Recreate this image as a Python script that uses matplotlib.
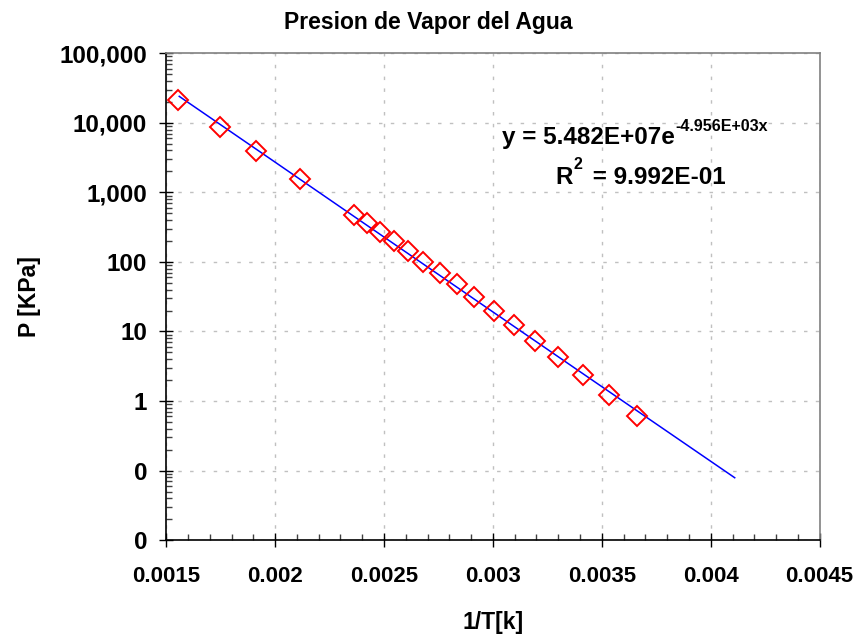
#!/usr/bin/env python
# -*- coding: utf-8 -*-

import matplotlib
matplotlib.use('Agg')
import matplotlib.pyplot as plt
import matplotlib.ticker as mt

plt.rcParams['font.family'] = ['Liberation Sans', 'DejaVu Sans']
plt.rcParams['font.weight'] = 'bold'

# steam table points: 1/T [1/K] and P [kPa]
inv_t = [0.001555, 0.001745, 0.001912, 0.002114, 0.002364, 0.002421,
         0.002481, 0.002545, 0.002611, 0.002681, 0.002755, 0.002833,
         0.002915, 0.003003, 0.003096, 0.003195, 0.003300, 0.003413,
         0.003533, 0.003663]
pres = [21030, 8581, 3976, 1554, 476, 361, 270, 198.5, 143.3, 101.3,
        70.1, 47.4, 31.2, 19.9, 12.35, 7.38, 4.25, 2.34, 1.23, 0.61]

# trend line
trend_x = [0.00156, 0.0020, 0.0025, 0.0030, 0.0035, 0.00411]
trend_p = [24000, 2720, 228, 19.1, 1.61, 0.079]

y_ticks = [0.01, 0.1, 1, 10, 100, 1000, 10000, 100000]
y_labels = ['0', '0', '1', '10', '100', '1,000', '10,000', '100,000']
x_ticks = [0.0015, 0.002, 0.0025, 0.003, 0.0035, 0.004, 0.0045]
x_labels = ['0.0015', '0.002', '0.0025', '0.003', '0.0035', '0.004', '0.0045']


def main():
    fig = plt.figure(figsize=(8.61, 6.34), dpi=100)
    ax = fig.add_axes([0.193, 0.148, 0.759, 0.768])
    # plot
    ax.semilogy(trend_x, trend_p, color='#0000ff', lw=1.1, zorder=3)
    ax.semilogy(inv_t, pres, ls='none', marker='D', ms=10, mfc='none',
                mec='#ff0000', mew=1.4, zorder=4)
    # range
    ax.set_xlim(0.0015, 0.0045)
    ax.set_ylim(0.01, 100000)
    # tune
    ax.set_xticks(x_ticks)
    ax.set_xticklabels(x_labels)
    ax.set_yticks(y_ticks)
    ax.set_yticklabels(y_labels)
    ax.xaxis.set_minor_locator(mt.MultipleLocator(0.0001))
    ax.yaxis.set_minor_locator(mt.LogLocator(base=10, subs=range(2, 10), numticks=20))
    ax.yaxis.set_minor_formatter(mt.NullFormatter())
    ax.tick_params(which='major', direction='inout', length=9.5, width=1.0,
                   color='black')
    ax.tick_params(axis='x', which='major', labelsize=16, pad=14)
    ax.tick_params(axis='y', which='major', labelsize=17.5, pad=9)
    ax.tick_params(which='minor', direction='in', length=4.5, width=1.0,
                   color='#404040')
    ax.grid(which='major', color='#c0c0c0', lw=1.0, ls=(0, (2.5, 6)))
    for s in ('left', 'bottom'):
        ax.spines[s].set_color('black')
        ax.spines[s].set_linewidth(1.2)
    for s in ('top', 'right'):
        ax.spines[s].set_color('#808080')
        ax.spines[s].set_linewidth(1.2)

    ax.set_xlabel('1/T[k]', fontsize=16.5, fontweight='bold', labelpad=17)
    ax.set_ylabel('P [KPa]', fontsize=16.5, fontweight='bold', labelpad=13)
    fig.text(0.497, 0.964, 'Presion de Vapor del Agua', ha='center',
             va='center', fontsize=16.5, fontweight='bold')

    # trend equation
    t = ax.text(0.514, 0.828, 'y = 5.482E+07e', transform=ax.transAxes,
                ha='left', va='center', fontsize=17.5, fontweight='bold')
    ax.annotate('-4.956E+03x', xy=(1.0, 0.95), xycoords=t, ha='left',
                va='center', fontsize=11.5, fontweight='bold')
    r = ax.text(0.595, 0.745, 'R', transform=ax.transAxes, ha='left',
                va='center', fontsize=17.5, fontweight='bold')
    r2 = ax.annotate('2', xy=(1.08, 1.05), xycoords=r, ha='left',
                     va='center', fontsize=11.5, fontweight='bold')
    ax.annotate(' = 9.992E-01', xy=(r2.get_position()[0], 0.5), xycoords=r,
                xytext=(9, 0), textcoords='offset points', ha='left',
                va='center', fontsize=17.5, fontweight='bold')

    plt.savefig('out.png', dpi=100)


if __name__ == '__main__':
    main()
